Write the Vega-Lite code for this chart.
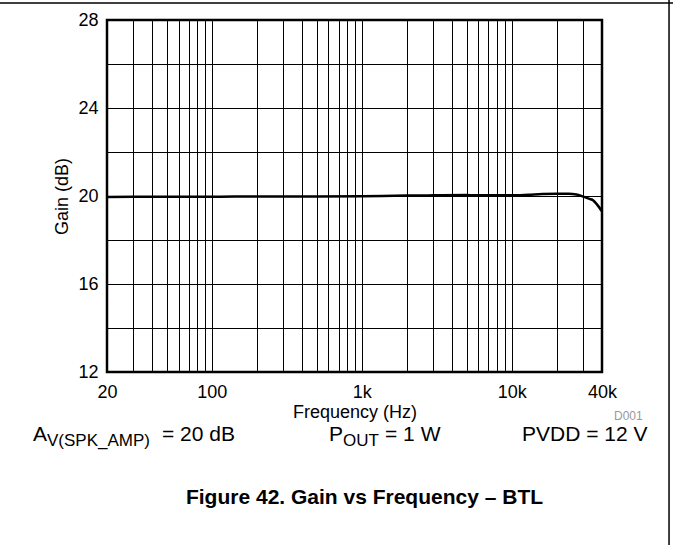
{
  "$schema": "https://vega.github.io/schema/vega-lite/v6.json",
  "width": 495,
  "height": 352,
  "autosize": {"type": "none"},
  "padding": {"left": 107, "top": 20, "right": 71, "bottom": 173},
  "background": "white",
  "config": {
    "font": "Liberation Sans",
    "view": {"stroke": "#000", "strokeWidth": 2.5},
    "axis": {"labelColor": "#000", "titleColor": "#000", "titleFontWeight": "normal", "domain": false, "ticks": false, "gridColor": "#000", "gridWidth": 1, "gridOpacity": 1, "labelOverlap": false, "labelFlush": false}
  },
  "title": {"text": "Figure 42. Gain vs Frequency – BTL", "orient": "bottom", "frame": "group", "anchor": "middle", "offset": -42, "baseline": "alphabetic", "fontSize": 21, "fontWeight": "bold", "color": "#000", "dx": 10},
  "datasets": {
    "curve": [
      {"f": 20, "g": 19.96}, {"f": 30, "g": 19.97}, {"f": 50, "g": 19.97}, {"f": 100, "g": 19.97},
      {"f": 200, "g": 19.98}, {"f": 500, "g": 19.98}, {"f": 1000, "g": 19.99}, {"f": 2000, "g": 20.02},
      {"f": 3000, "g": 20.03}, {"f": 5000, "g": 20.04}, {"f": 8000, "g": 20.03}, {"f": 10000, "g": 20.03},
      {"f": 13000, "g": 20.06}, {"f": 16000, "g": 20.09}, {"f": 20000, "g": 20.1}, {"f": 24000, "g": 20.1},
      {"f": 27000, "g": 20.07}, {"f": 30000, "g": 19.97}, {"f": 33000, "g": 19.87}, {"f": 35000, "g": 19.8},
      {"f": 37000, "g": 19.62}, {"f": 40000, "g": 19.3}
    ],
    "notes": [
      {"f": 6.42, "g": 8.864, "text": "A"},
      {"f": 46.5, "g": 8.864, "text": "= 20 dB"},
      {"f": 604.8, "g": 8.864, "text": "P"},
      {"f": 1429, "g": 8.864, "text": "= 1 W"},
      {"f": 11712, "g": 8.864, "text": "PVDD = 12 V"}
    ],
    "subs": [
      {"f": 7.96, "g": 8.636, "text": "V(SPK_AMP)"},
      {"f": 749.8, "g": 8.636, "text": "OUT"}
    ],
    "tag": [{"f": 48100, "g": 9.82, "text": "D001"}],
    "hline": [{"f": 1, "f2": 1000000, "g": 28.77}],
    "vline": [{"f": 111960, "g": 30, "g2": 4.14}]
  },
  "layer": [
    {
      "data": {"name": "curve"},
      "mark": {"type": "line", "color": "#000", "strokeWidth": 2.5, "interpolate": "monotone"},
      "encoding": {
        "x": {"field": "f", "type": "quantitative", "scale": {"type": "log", "domain": [20, 40000], "nice": false},
          "axis": {"title": "Frequency (Hz)", "values": [20, 30, 40, 50, 60, 70, 80, 90, 100, 200, 300, 400, 500, 600, 700, 800, 900, 1000, 2000, 3000, 4000, 5000, 6000, 7000, 8000, 9000, 10000, 20000, 30000, 40000],
            "labelExpr": "datum.value == 20 ? '20' : datum.value == 100 ? '100' : datum.value == 1000 ? '1k' : datum.value == 10000 ? '10k' : datum.value == 40000 ? '40k' : ''",
            "labelFontSize": 18, "labelPadding": 11, "titleFontSize": 18, "titlePadding": 2, "grid": true}},
        "y": {"field": "g", "type": "quantitative", "scale": {"domain": [12, 28], "nice": false},
          "axis": {"title": "Gain (dB)", "values": [12, 14, 16, 18, 20, 22, 24, 26, 28],
            "labelExpr": "datum.value % 4 == 0 ? datum.label : ''",
            "labelFontSize": 18, "labelPadding": 9, "titleFontSize": 18, "titlePadding": 6, "grid": true}}
      }
    },
    {
      "data": {"name": "notes"},
      "mark": {"type": "text", "align": "left", "baseline": "alphabetic", "fontSize": 21, "color": "#000"},
      "encoding": {
        "x": {"field": "f", "type": "quantitative"},
        "y": {"field": "g", "type": "quantitative"},
        "text": {"field": "text"}
      }
    },
    {
      "data": {"name": "subs"},
      "mark": {"type": "text", "align": "left", "baseline": "alphabetic", "fontSize": 17, "color": "#000"},
      "encoding": {
        "x": {"field": "f", "type": "quantitative"},
        "y": {"field": "g", "type": "quantitative"},
        "text": {"field": "text"}
      }
    },
    {
      "data": {"name": "tag"},
      "mark": {"type": "text", "align": "left", "baseline": "alphabetic", "fontSize": 12, "color": "#999"},
      "encoding": {
        "x": {"field": "f", "type": "quantitative"},
        "y": {"field": "g", "type": "quantitative"},
        "text": {"field": "text"}
      }
    },
    {
      "data": {"name": "hline"},
      "mark": {"type": "rule", "color": "#000", "strokeWidth": 1.5},
      "encoding": {
        "x": {"field": "f", "type": "quantitative"},
        "x2": {"field": "f2"},
        "y": {"field": "g", "type": "quantitative"}
      }
    },
    {
      "data": {"name": "vline"},
      "mark": {"type": "rule", "color": "#000", "strokeWidth": 1.5},
      "encoding": {
        "x": {"field": "f", "type": "quantitative"},
        "y": {"field": "g", "type": "quantitative"},
        "y2": {"field": "g2"}
      }
    }
  ]
}
